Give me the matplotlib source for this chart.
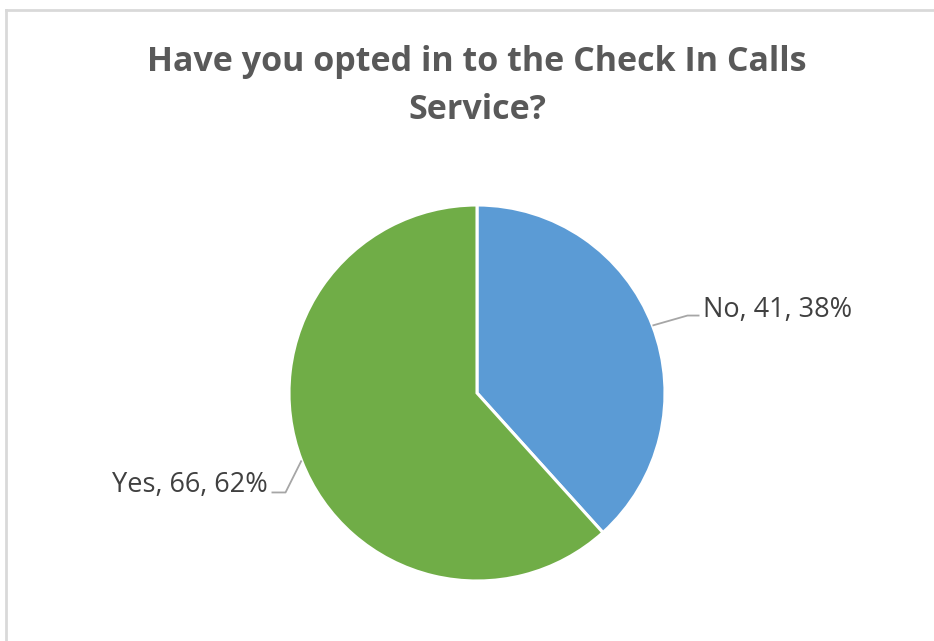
import matplotlib
matplotlib.use("Agg")
import matplotlib.pyplot as plt
from matplotlib.lines import Line2D
import numpy as np

# Survey responses
categories = ["No", "Yes"]
counts = [41, 66]
colors = ["#5B9BD5", "#70AD47"]
title_lines = ["Have you opted in to the Check In Calls", "Service?"]

W, H = 934, 641
fig = plt.figure(figsize=(W / 100, H / 100), dpi=100)
fig.patch.set_facecolor("white")

# Axes in pixel-like units (y measured upward)
ax = fig.add_axes([0, 0, 1, 1])
cx, cy, r = 477, H - 393, 188
wedges, _ = ax.pie(counts, colors=colors, startangle=90, counterclock=False,
                   center=(cx, cy), radius=r,
                   wedgeprops=dict(edgecolor="white", linewidth=2.2))
ax.set_xlim(0, W)
ax.set_ylim(0, H)
ax.set_aspect("equal")
ax.axis("off")

# Chart area border (left and top edges)
border = "#D9D9D9"
fig.add_artist(Line2D([6 / W, 6 / W], [0, 1 - 10 / H], transform=fig.transFigure,
                      color=border, lw=2))
fig.add_artist(Line2D([6 / W, 1], [1 - 10 / H, 1 - 10 / H], transform=fig.transFigure,
                      color=border, lw=2))

renderer = fig.canvas.get_renderer()

def fit_size(txt, target_w, **kw):
    t = fig.text(0, 0, txt, fontsize=20, **kw)
    w = t.get_window_extent(renderer).width
    t.remove()
    return 20 * target_w / w

title_kw = dict(family=["Open Sans", "DejaVu Sans"], weight="bold", color="#595959")
ts = fit_size(title_lines[0], 661, **title_kw)
ax.text(cx, H - 71, title_lines[0], ha="center", va="baseline", fontsize=ts, **title_kw)
ax.text(cx, H - 119, title_lines[1], ha="center", va="baseline", fontsize=ts, **title_kw)

# Data labels with leader lines
total = sum(counts)
label_kw = dict(family=["Open Sans", "DejaVu Sans"], color="#404040")
ls = fit_size("No, 41, 38%", 149, **label_kw)
cum = 0
for i, (cat, val) in enumerate(zip(categories, counts)):
    pct = val / total * 100
    mid = np.deg2rad(90 - (cum + val / 2) / total * 360)
    cum += val
    px, py = cx + r * np.cos(mid), cy + r * np.sin(mid)
    text = f"{cat}, {val}, {pct:.0f}%"
    if np.cos(mid) >= 0:
        ex, ey = px + 35, py + 10
        hx = ex + 12
        ax.plot([px, ex, hx], [py, ey, ey], color="#A6A6A6", lw=1.3, solid_capstyle="butt")
        ax.text(hx + 4, ey - 1, text, ha="left", va="baseline", fontsize=ls, **label_kw)
    else:
        ex, ey = px - 16, py - 32
        hx = ex - 14
        ax.plot([px, ex, hx], [py, ey, ey], color="#A6A6A6", lw=1.3, solid_capstyle="butt")
        ax.text(hx - 4, ey + 0, text, ha="right", va="baseline", fontsize=ls, **label_kw)

fig.savefig("out.png", dpi=100, facecolor="white")
